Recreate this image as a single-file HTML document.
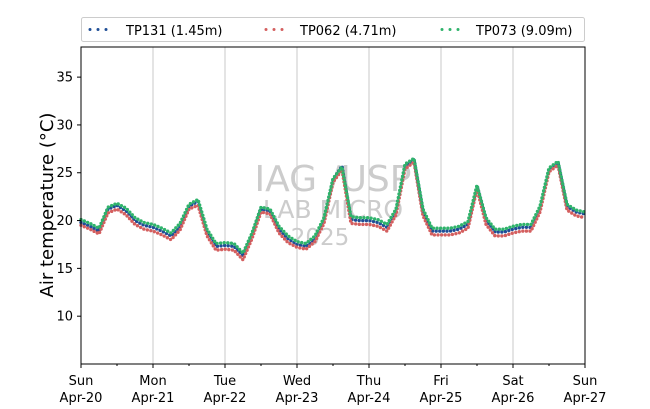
<!DOCTYPE html>
<html><head><meta charset="utf-8"><style>
body{margin:0;background:#fff}
svg{font-family:"DejaVu Sans","Liberation Sans",sans-serif;display:block}
</style></head><body>
<svg id="chart" width="650" height="409">
<g id="grid"></g>
<g fill="#cccccc" text-anchor="middle">
<text x="333" y="191" font-size="36">IAG /USP</text>
<text x="333" y="218" font-size="25">LAB MICRO</text>
<text x="320" y="245" font-size="23">2025</text>
</g>
<g id="series"></g>
<rect x="81" y="47" width="504" height="317" fill="none" stroke="#000" stroke-width="1"/>
<g id="axes"></g>
<text transform="translate(53,205) rotate(-90)" font-size="18" text-anchor="middle">Air temperature (°C)</text>
<g>
<rect x="81.5" y="17.5" width="503" height="24" rx="2" fill="#fff" stroke="#ccc"/>
<g><line x1="90" y1="29.5" x2="114" y2="29.5" stroke="#1f4e96" stroke-width="3" stroke-dasharray="0 8" stroke-linecap="round"/><text x="126" y="35" font-size="13">TP131 (1.45m)</text></g>
<g><line x1="266" y1="29.5" x2="290" y2="29.5" stroke="#d45f5f" stroke-width="3" stroke-dasharray="0 8" stroke-linecap="round"/><text x="300" y="35" font-size="13">TP062 (4.71m)</text></g>
<g><line x1="442" y1="29.5" x2="466" y2="29.5" stroke="#2fb36b" stroke-width="3" stroke-dasharray="0 8" stroke-linecap="round"/><text x="476" y="35" font-size="13">TP073 (9.09m)</text></g>
</g>
</svg>
<script>
// 3-hourly samples from Sun Apr-20 00:00 to Sun Apr-27 00:00
const tp131 = [19.8,19.4,18.9,21.2,21.6,21.0,20.0,19.5,19.3, 18.9,18.4,19.4,21.5,22.0,18.8,17.3,17.4, 17.3,16.3,18.4,21.2,21.0,19.1,18.1,17.5, 17.3,18.1,20.0,24.3,25.7,20.1,20.0,20.0, 19.8,19.3,20.9,25.7,26.4,20.9,18.9,18.9, 18.9,19.1,19.6,23.6,20.0,18.8,18.8,19.1, 19.3,19.3,21.2,25.4,26.1,21.5,20.9,20.7];
const tp062 = [19.5,19.1,18.6,20.8,21.2,20.6,19.6,19.1,18.9, 18.5,18.0,19.0,21.2,21.6,18.4,16.9,17.0, 16.9,15.9,18.1,20.9,20.7,18.7,17.7,17.2, 17.0,17.8,19.7,24.0,25.3,19.7,19.6,19.6, 19.4,18.9,20.6,25.4,26.1,20.5,18.5,18.5, 18.5,18.7,19.2,23.3,19.6,18.4,18.4,18.7, 18.9,18.9,20.9,25.1,25.8,21.1,20.5,20.3];
const tp073 = [20.1,19.7,19.2,21.4,21.8,21.3,20.3,19.8,19.6, 19.2,18.7,19.7,21.7,22.2,19.1,17.6,17.7, 17.6,16.6,18.7,21.4,21.2,19.4,18.4,17.8, 17.6,18.4,20.3,24.4,25.6,20.4,20.3,20.3, 20.1,19.6,21.2,25.9,26.5,21.2,19.2,19.2, 19.2,19.4,19.9,23.7,20.3,19.1,19.1,19.4, 19.6,19.6,21.5,25.5,26.2,21.7,21.1,20.9];
const yTicks = [10,15,20,25,30,35];
const dayNames = ["Sun","Mon","Tue","Wed","Thu","Fri","Sat","Sun"];
const dayDates = ["Apr-20","Apr-21","Apr-22","Apr-23","Apr-24","Apr-25","Apr-26","Apr-27"];
const stepHours = 3;

const NS="http://www.w3.org/2000/svg";
const X0=81,X1=585,Y0=47,Y1=364, yMin=5.0, yMax=38.15, totalHours=168;
const xs=h=>X0+(h/totalHours)*(X1-X0);
const ys=v=>Y1-(v-yMin)/(yMax-yMin)*(Y1-Y0);
function mk(tag,attrs,parent){const e=document.createElementNS(NS,tag);for(const k in attrs)e.setAttribute(k,attrs[k]);parent.appendChild(e);return e;}
const grid=document.getElementById('grid'),axes=document.getElementById('axes'),ser=document.getElementById('series');
dayNames.forEach((d,i)=>{
  const x=xs(i*24);
  if(i>0&&i<dayNames.length-1){const g=mk('line',{x1:x,x2:x,y1:Y0,y2:Y1,stroke:'#c8c8c8','stroke-width':1},grid);
  
  }
  const t=mk('line',{x1:x,x2:x,y1:Y1,y2:Y1+4,stroke:'#000'},axes);
  
  
  const l=mk('text',{x:x,y:Y1+21,'font-size':13,'text-anchor':'middle'},axes);
  
  
  mk('tspan',{x:x},l).textContent=d;
  mk('tspan',{x:x,dy:17},l).textContent=dayDates[i];
  if(i<dayNames.length-1){const m=mk('line',{x1:xs(i*24+12),x2:xs(i*24+12),y1:Y1,y2:Y1+2,stroke:'#000'},axes);
  
  }
});
yTicks.forEach(v=>{
  const y=ys(v);
  const t=mk('line',{x1:X0-4,x2:X0,y1:y,y2:y,stroke:'#000'},axes);
  
  
  const l=mk('text',{x:X0-8,y:y+4.5,'font-size':13,'text-anchor':'end'},axes);
  
  
  l.textContent=v;
});
function draw(arr,color,name){
  const pts=arr.map((v,i)=>xs(i*stepHours).toFixed(1)+','+ys(v).toFixed(1)).join(' ');
  const p=mk('polyline',{points:pts,fill:'none',stroke:color,'stroke-width':3.4,'stroke-dasharray':'0 3.6','stroke-linecap':'round','stroke-linejoin':'round'},ser);
  
  
}
draw(tp131,'#1f4e96','series-tp131');
draw(tp062,'#d45f5f','series-tp062');
draw(tp073,'#2fb36b','series-tp073');
</script>
</body></html>
